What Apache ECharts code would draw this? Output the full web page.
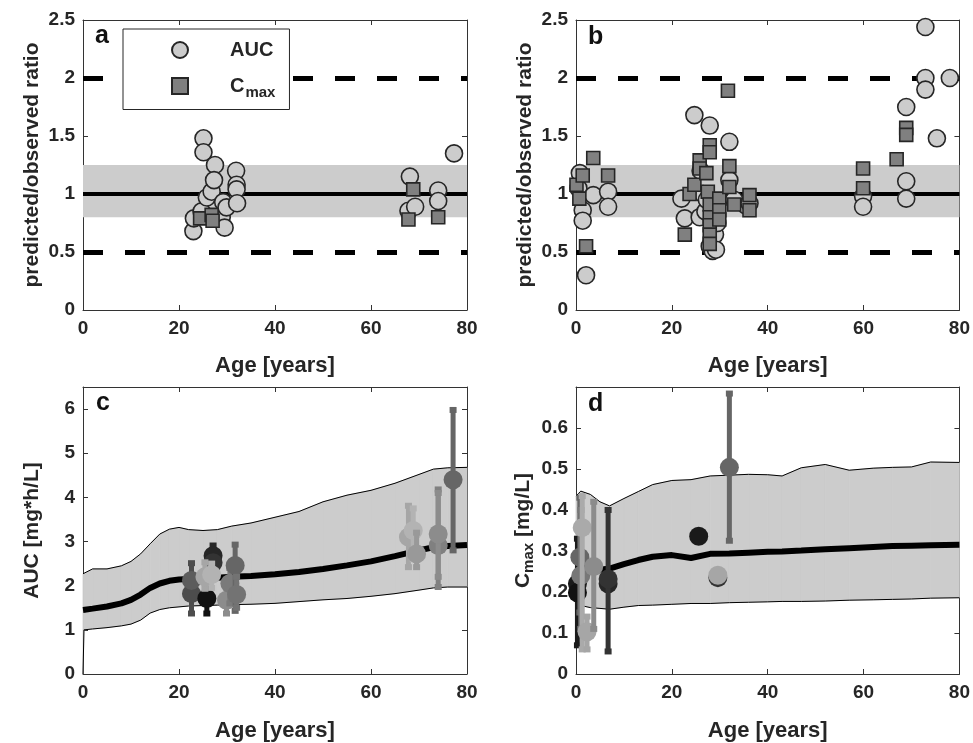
<!DOCTYPE html>
<html>
<head>
<meta charset="utf-8">
<script src="https://cdn.jsdelivr.net/npm/echarts@6/dist/echarts.min.js"></script>
<style>
html, body { margin: 0; padding: 0; background: #fff; }
#chart { width: 973px; height: 743px; }
</style>
</head>
<body>
<div id="chart"></div>
<script>
// panel a: predicted/observed ratios
var aAucAge = [23.0, 23.1, 24.7, 25.1, 25.1, 25.8, 26.8, 27.5, 27.3, 28.9, 29.2, 29.9, 29.5, 31.9, 32.0, 32.0, 32.1, 67.8, 68.1, 69.2, 74.0, 74.0, 77.3];
var aAucRatio = [0.68, 0.79, 0.85, 1.48, 1.36, 0.97, 1.02, 1.25, 1.12, 0.80, 0.93, 0.885, 0.71, 1.20, 1.08, 1.04, 0.92, 0.855, 1.15, 0.89, 1.03, 0.94, 1.35];
var aCmaxAge = [24.4, 26.8, 27.0, 68.8, 67.8, 74.0];
var aCmaxRatio = [0.79, 0.82, 0.77, 1.04, 0.78, 0.80];

// panel b
var bAucAge = [0.5, 0.8, 1.4, 1.4, 2.1, 3.6, 6.7, 6.7, 22.0, 22.7, 24.7, 25.8, 26.0, 26.5, 27.0, 27.3, 27.9, 27.9, 28.5, 29.0, 29.2, 29.5, 32.0, 32.0, 33.0, 35.5, 36.2, 59.9, 59.9, 68.9, 68.9, 68.9, 72.9, 72.9, 72.9, 75.3, 78.0];
var bAucRatio = [1.05, 1.18, 0.86, 0.77, 0.30, 0.99, 1.02, 0.89, 0.96, 0.79, 1.68, 0.80, 1.20, 1.00, 0.85, 0.95, 1.59, 0.55, 0.51, 0.65, 0.52, 0.75, 1.45, 1.12, 0.95, 0.90, 0.92, 0.98, 0.89, 1.75, 1.11, 0.96, 2.44, 2.00, 1.90, 1.48, 2.00];
var bCmaxAge = [0.1, 0.7, 1.4, 2.1, 3.6, 6.7, 22.7, 23.7, 24.7, 25.8, 25.8, 27.2, 27.5, 27.9, 27.9, 27.9, 27.9, 27.9, 27.9, 27.9, 29.9, 29.9, 29.9, 31.7, 32.0, 32.0, 33.0, 36.2, 36.2, 59.9, 59.9, 66.9, 68.9, 68.9];
var bCmaxRatio = [1.08, 0.96, 1.16, 0.55, 1.31, 1.16, 0.65, 1.00, 1.08, 1.29, 1.22, 1.18, 1.02, 1.42, 1.36, 0.91, 0.80, 0.73, 0.65, 0.57, 0.96, 0.86, 0.78, 1.89, 1.24, 1.06, 0.91, 0.99, 0.86, 1.22, 1.05, 1.30, 1.57, 1.51];

// reference levels for a/b
var ratioUnity = 1;
var ratioFold = [0.5, 2];
var ratioBand = [0.8, 1.25];

// panel c: AUC model (median, band) and observed mean +- sd
var cModelAge = [0, 0.2, 2, 5, 8, 10, 12, 14, 16, 18, 20, 22, 25, 28, 31, 35, 40, 45, 50, 55, 60, 65, 70, 73, 76, 80];
var cMedian = [1.45, 1.45, 1.48, 1.53, 1.60, 1.68, 1.80, 1.95, 2.05, 2.11, 2.14, 2.15, 2.16, 2.18, 2.20, 2.22, 2.26, 2.31, 2.38, 2.46, 2.55, 2.67, 2.80, 2.87, 2.90, 2.92];
var cUpper = [2.27, 2.27, 2.38, 2.38, 2.45, 2.55, 2.72, 2.95, 3.17, 3.28, 3.32, 3.27, 3.25, 3.27, 3.35, 3.42, 3.55, 3.68, 3.90, 4.05, 4.16, 4.32, 4.52, 4.64, 4.67, 4.68];
var cLower = [0, 1.00, 1.02, 1.05, 1.09, 1.13, 1.22, 1.38, 1.46, 1.50, 1.52, 1.54, 1.55, 1.56, 1.57, 1.58, 1.60, 1.64, 1.68, 1.71, 1.76, 1.82, 1.90, 1.95, 1.97, 1.97];
var cObsAge = [22.6, 22.6, 25.8, 27.1, 27.1, 25.4, 26.8, 29.9, 30.6, 31.7, 32.0, 67.8, 68.8, 69.5, 74.0, 74.0, 77.1];
var cObsAuc = [1.82, 2.12, 1.71, 2.68, 2.52, 2.20, 2.25, 1.67, 2.05, 2.46, 1.80, 3.10, 3.25, 2.72, 2.91, 3.17, 4.40];
var cObsLow = [1.37, null, 1.37, 2.46, null, 1.93, 1.95, 1.37, 1.60, 1.43, 1.50, 2.42, 2.60, 2.42, 1.97, 2.20, 2.80];
var cObsHigh = [2.51, null, 2.05, 2.91, null, 2.53, 2.50, 2.00, 2.40, 2.93, 2.20, 3.81, 3.75, 3.20, 4.18, 4.10, 5.98];

// panel d: Cmax model and observed
var dModelAge = [0, 1, 3, 5, 7, 10, 13, 16, 20, 24, 28, 32, 36, 40, 43, 47, 52, 57, 62, 66, 70, 74, 80];
var dMedian = [0.265, 0.262, 0.258, 0.255, 0.257, 0.268, 0.278, 0.286, 0.290, 0.283, 0.293, 0.294, 0.296, 0.298, 0.299, 0.301, 0.304, 0.307, 0.310, 0.312, 0.313, 0.314, 0.315];
var dUpper = [0.434, 0.446, 0.438, 0.420, 0.410, 0.428, 0.445, 0.462, 0.472, 0.474, 0.483, 0.485, 0.487, 0.486, 0.483, 0.503, 0.511, 0.497, 0.502, 0.504, 0.505, 0.517, 0.516];
var dLower = [0.168, 0.167, 0.162, 0.160, 0.158, 0.163, 0.167, 0.168, 0.170, 0.172, 0.172, 0.174, 0.175, 0.176, 0.177, 0.177, 0.178, 0.180, 0.181, 0.182, 0.183, 0.185, 0.186];
var dObsAge = [0.3, 0.3, 0.8, 1.0, 1.3, 2.3, 3.7, 6.7, 6.7, 25.6, 29.6, 29.6, 32.0];
var dObsCmax = [0.22, 0.198, 0.285, 0.24, 0.357, 0.103, 0.262, 0.22, 0.232, 0.336, 0.235, 0.241, 0.504];
var dObsLow = [0.07, null, 0.15, 0.11, 0.06, 0.06, 0.11, null, 0.055, null, null, null, 0.325];
var dObsHigh = [0.33, null, 0.43, 0.40, 0.434, 0.14, 0.42, null, 0.40, null, null, null, 0.684];

// styles
var FONT = 'Liberation Sans, Arial, Helvetica, sans-serif';
var AX = '#333333';
var TXT = '#262626';
var BAND = '#cccccc';
var cObsShades = ['#4d4d4d', '#5c5c5c', '#111111', '#262626', '#333333', '#a6a6a6', '#b3b3b3', '#8c8c8c', '#7a7a7a', '#666666', '#737373', '#a6a6a6', '#b3b3b3', '#999999', '#808080', '#8c8c8c', '#666666'];
var dObsShades = ['#1a1a1a', '#111111', '#666666', '#777777', '#aaaaaa', '#a6a6a6', '#8c8c8c', '#262626', '#333333', '#1a1a1a', '#333333', '#a6a6a6', '#666666'];
var SQUARE = 'path://M0 0H10V10H0Z';

function pairs(xs, ys) {
  return xs.map(function (x, i) { return [x, ys[i]]; });
}

var grids = [
  { left: 83, top: 20, width: 384, height: 290 },
  { left: 576, top: 20, width: 385, height: 290 },
  { left: 83, top: 387, width: 384, height: 289 },
  { left: 576, top: 387, width: 385, height: 289 }
];

var yRanges = [
  { max: 2.5, interval: 0.5, name: 'predicted/observed ratio', showMax: true },
  { max: 2.5, interval: 0.5, name: 'predicted/observed ratio', showMax: true },
  { max: 6.5, interval: 1, name: 'AUC [mg*h/L]', showMax: false },
  { max: 0.7, interval: 0.1, name: '{b|C}{s|max}{b| [mg/L]}', showMax: false }
];

var nameStyle = {
  fontSize: 21, fontWeight: 'bold', color: TXT, fontFamily: FONT,
  rich: {
    b: { fontSize: 21, fontWeight: 'bold', color: TXT, fontFamily: FONT },
    s: { fontSize: 15, fontWeight: 'bold', color: TXT, fontFamily: FONT, padding: [10, 0, 0, 0] }
  }
};

var xAxes = [], yAxes = [];
grids.forEach(function (g, i) {
  xAxes.push({
    type: 'value', gridIndex: i, min: 0, max: 80, interval: 20, position: 'bottom',
    axisLine: { onZero: false, lineStyle: { color: AX, width: 1 } },
    axisTick: { inside: true, length: 5, lineStyle: { color: AX } },
    axisLabel: { fontSize: 19, fontWeight: 'bold', color: TXT, fontFamily: FONT, margin: 9 },
    splitLine: { show: false },
    name: 'Age [years]', nameLocation: 'middle', nameGap: i < 2 ? 45 : 46,
    nameTextStyle: { fontSize: 22, fontWeight: 'bold', color: TXT, fontFamily: FONT }
  });
  yAxes.push({
    type: 'value', gridIndex: i, min: 0, max: yRanges[i].max, interval: yRanges[i].interval, position: 'left',
    axisLine: { show: true, onZero: false, lineStyle: { color: AX, width: 1 } },
    axisTick: { show: true, inside: true, length: 5, lineStyle: { color: AX } },
    axisLabel: { fontSize: 19, fontWeight: 'bold', color: TXT, fontFamily: FONT, margin: 8, showMaxLabel: yRanges[i].showMax },
    splitLine: { show: false },
    name: yRanges[i].name, nameLocation: 'middle', nameGap: 40, nameTextStyle: nameStyle
  });
});
grids.forEach(function (g, i) {
  xAxes.push({
    type: 'value', gridIndex: i, min: 0, max: 80, interval: 20, position: 'top',
    axisLine: { onZero: false, lineStyle: { color: AX, width: 1 } },
    axisTick: { inside: true, length: 5, lineStyle: { color: AX } },
    axisLabel: { show: false }, splitLine: { show: false }
  });
  yAxes.push({
    type: 'value', gridIndex: i, min: 0, max: yRanges[i].max, interval: yRanges[i].interval, position: 'right',
    axisLine: { show: true, onZero: false, lineStyle: { color: AX, width: 1 } },
    axisTick: { show: true, inside: true, length: 5, lineStyle: { color: AX } },
    axisLabel: { show: false }, splitLine: { show: false }
  });
});

function ratioSeries(gi, aucAge, aucRatio, cmaxAge, cmaxRatio) {
  return [{
    name: 'AUC', type: 'scatter', xAxisIndex: gi, yAxisIndex: gi, z: 3,
    data: pairs(aucAge, aucRatio), symbol: 'circle', symbolSize: 17,
    itemStyle: { color: '#cccccc', borderColor: '#262626', borderWidth: 1.6, opacity: 1 },
    emphasis: { disabled: true },
    markArea: {
      silent: true, z: 1,
      itemStyle: { color: BAND, opacity: 1 },
      data: [[{ yAxis: ratioBand[0] }, { yAxis: ratioBand[1] }]]
    },
    markLine: {
      silent: true, z: 2, symbol: 'none', label: { show: false },
      data: [
        { yAxis: ratioUnity, lineStyle: { type: 'solid', width: 4, color: '#000' } },
        { yAxis: ratioFold[0], lineStyle: { type: [20, 22], width: 5, color: '#000' } },
        { yAxis: ratioFold[1], lineStyle: { type: [20, 22], width: 5, color: '#000' } }
      ]
    }
  }, {
    name: 'Cmax', type: 'scatter', xAxisIndex: gi, yAxisIndex: gi, z: 4,
    data: pairs(cmaxAge, cmaxRatio), symbol: SQUARE, symbolSize: 13,
    itemStyle: { color: '#808080', borderColor: '#262626', borderWidth: 1.6, opacity: 1 },
    emphasis: { disabled: true }
  }];
}

// shaded band between low and high, one quad per age step
function bandSeries(gi, ages, low, high) {
  var segs = [];
  for (var i = 0; i < ages.length - 1; i++) {
    segs.push([ages[i], low[i], high[i], ages[i + 1], low[i + 1], high[i + 1]]);
  }
  return {
    type: 'custom', xAxisIndex: gi, yAxisIndex: gi, z: 2, silent: true,
    encode: { x: [0, 3], y: [1, 2, 4, 5] },
    data: segs,
    renderItem: function (params, api) {
      var a0 = api.coord([api.value(0), api.value(1)]);
      var b0 = api.coord([api.value(0), api.value(2)]);
      var a1 = api.coord([api.value(3), api.value(4)]);
      var b1 = api.coord([api.value(3), api.value(5)]);
      return {
        type: 'polygon',
        shape: { points: [a0, a1, b1, b0] },
        style: { fill: BAND, stroke: BAND, lineWidth: 0.8 }
      };
    }
  };
}

function modelSeries(gi, ages, med, low, high) {
  return [bandSeries(gi, ages, low, high), {
    type: 'line', xAxisIndex: gi, yAxisIndex: gi, z: 3,
    data: pairs(ages, low), symbol: 'none', silent: true,
    lineStyle: { color: '#000', width: 1 }
  }, {
    type: 'line', xAxisIndex: gi, yAxisIndex: gi, z: 3,
    data: pairs(ages, high), symbol: 'none', silent: true,
    lineStyle: { color: '#000', width: 1 }
  }, {
    type: 'line', xAxisIndex: gi, yAxisIndex: gi, z: 4,
    data: pairs(ages, med), symbol: 'none', silent: true,
    lineStyle: { color: '#000', width: 6 }
  }];
}

function obsSeries(gi, ages, vals, lows, highs, shades) {
  return {
    type: 'custom', xAxisIndex: gi, yAxisIndex: gi, z: 5, silent: true,
    encode: { x: 0, y: 1 },
    data: ages.map(function (a, i) { return [a, vals[i], lows[i] == null ? '-' : lows[i], highs[i] == null ? '-' : highs[i]]; }),
    renderItem: function (params, api) {
      var col = shades[params.dataIndex];
      var x = api.value(0), v = api.value(1), lo = api.value(2), hi = api.value(3);
      var kids = [];
      if (!isNaN(lo) && !isNaN(hi)) {
        var p1 = api.coord([x, lo]), p2 = api.coord([x, hi]);
        kids.push({ type: 'line', shape: { x1: p1[0], y1: p1[1], x2: p2[0], y2: p2[1] }, style: { stroke: col, lineWidth: 5 } });
        kids.push({ type: 'rect', shape: { x: p1[0] - 3.5, y: p1[1] - 3, width: 7, height: 6 }, style: { fill: col } });
        kids.push({ type: 'rect', shape: { x: p2[0] - 3.5, y: p2[1] - 3, width: 7, height: 6 }, style: { fill: col } });
      }
      var c = api.coord([x, v]);
      kids.push({ type: 'circle', shape: { cx: c[0], cy: c[1], r: 9.5 }, style: { fill: col } });
      return { type: 'group', children: kids };
    }
  };
}

var series = []
  .concat(ratioSeries(0, aAucAge, aAucRatio, aCmaxAge, aCmaxRatio))
  .concat(ratioSeries(1, bAucAge, bAucRatio, bCmaxAge, bCmaxRatio))
  .concat(modelSeries(2, cModelAge, cMedian, cLower, cUpper))
  .concat([obsSeries(2, cObsAge, cObsAuc, cObsLow, cObsHigh, cObsShades)])
  .concat(modelSeries(3, dModelAge, dMedian, dLower, dUpper))
  .concat([obsSeries(3, dObsAge, dObsCmax, dObsLow, dObsHigh, dObsShades)]);

var letterStyle = { fontSize: 25, fontWeight: 'bold', color: '#111', fontFamily: FONT };

var chart = echarts.init(document.getElementById('chart'));
chart.setOption({
  animation: false,
  backgroundColor: '#fff',
  title: [
    { text: 'a', left: 95, top: 24, padding: 0, textStyle: letterStyle },
    { text: 'b', left: 588, top: 25, padding: 0, textStyle: letterStyle },
    { text: 'c', left: 96, top: 391, padding: 0, textStyle: letterStyle },
    { text: 'd', left: 588, top: 392, padding: 0, textStyle: letterStyle }
  ],
  legend: {
    data: ['AUC', 'Cmax'],
    orient: 'vertical', left: 123, top: 29,
    itemWidth: 90, itemHeight: 16, itemGap: 16,
    padding: [11, 14, 9, 48],
    borderColor: '#262626', borderWidth: 1, backgroundColor: '#fff',
    selectedMode: false,
    formatter: function (name) { return name === 'Cmax' ? '{b|C}{s|max}' : '{b|' + name + '}'; },
    textStyle: {
      rich: {
        b: { fontSize: 20, fontWeight: 'bold', color: TXT, fontFamily: FONT, lineHeight: 24 },
        s: { fontSize: 15, fontWeight: 'bold', color: TXT, fontFamily: FONT, padding: [14, 0, 0, 1] }
      }
    }
  },
  grid: grids,
  xAxis: xAxes,
  yAxis: yAxes,
  series: series
});
</script>
</body>
</html>
